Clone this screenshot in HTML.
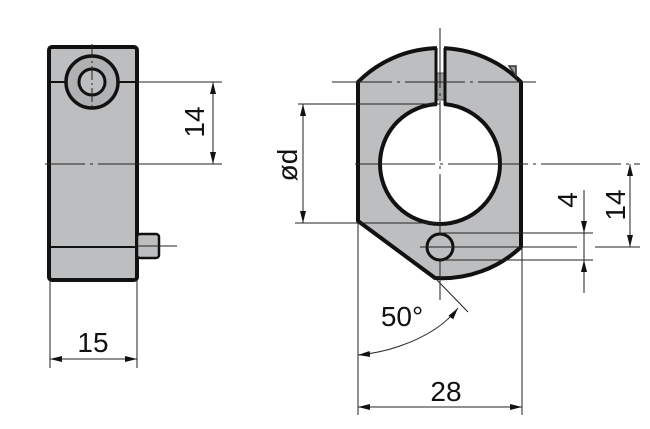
<!DOCTYPE html>
<html><head><style>body{margin:0;background:#fff}svg{display:block}</style></head><body>
<svg width="650" height="429" viewBox="0 0 650 429" xmlns="http://www.w3.org/2000/svg">
<defs>
<marker id="a" viewBox="0 0 12 6" refX="12" refY="3" markerWidth="12" markerHeight="6" markerUnits="userSpaceOnUse" orient="auto"><path d="M0,0 L12,3 L0,6 Z" fill="#111"/></marker>
</defs>
<g stroke="#222" stroke-width="1" fill="none">
<rect x="49" y="47" width="88" height="233" rx="3" fill="#bdbec0" stroke="#111" stroke-width="4"/>
<rect x="137" y="234" width="22" height="24" rx="3" fill="#bdbec0" stroke="#111" stroke-width="2.5"/>
<line x1="137" y1="246" x2="177" y2="246"/>
<line x1="49" y1="247" x2="137" y2="247" stroke="#111" stroke-width="2"/>
<line x1="49" y1="82" x2="137" y2="82" stroke="#111" stroke-width="2"/>
<circle cx="92" cy="82" r="26" fill="#b0b1b3" stroke="#111" stroke-width="3.5"/>
<circle cx="92" cy="82" r="13" fill="#bdbec0" stroke="#111" stroke-width="3"/>
<line x1="92" y1="44" x2="92" y2="110" stroke-dasharray="14 3 2 3"/>
<line x1="45" y1="164" x2="137" y2="164" stroke-dasharray="40 5 3 5"/>
<line x1="137" y1="82" x2="222" y2="82"/>
<line x1="137" y1="164" x2="222" y2="164"/>
<line x1="213" y1="122" x2="213" y2="82" marker-end="url(#a)"/>
<line x1="213" y1="122" x2="213" y2="164" marker-end="url(#a)"/>
<line x1="50" y1="280" x2="50" y2="368"/>
<line x1="137" y1="280" x2="137" y2="368"/>
<line x1="93" y1="359" x2="50" y2="359" marker-end="url(#a)"/>
<line x1="93" y1="359" x2="137" y2="359" marker-end="url(#a)"/>

<path d="M358,82 A115,115 0 0 1 521,82 L521,247 A115,115 0 0 1 435,278 L358,221 Z" fill="#bdbec0" stroke="#111" stroke-width="4" stroke-linejoin="round"/>
<path d="M509,66 L516,66 L516,76 Z" fill="#999" stroke="#333" stroke-width="1.5"/>
<circle cx="440" cy="164" r="60" fill="#fff" stroke="#111" stroke-width="4"/>
<rect x="437" y="38" width="7" height="70" fill="#fff" stroke="none"/>
<rect x="437" y="73" width="7" height="27" fill="#a0a1a3" stroke="#555" stroke-width="1"/>
<line x1="436" y1="48" x2="436" y2="105" stroke="#111" stroke-width="3"/>
<line x1="445" y1="48" x2="445" y2="105" stroke="#111" stroke-width="3"/>
<line x1="440" y1="28" x2="440" y2="300" stroke-dasharray="60 5 3 5"/>
<line x1="332" y1="82" x2="536" y2="82" stroke-dasharray="60 5 3 5"/>
<line x1="355" y1="164" x2="640" y2="164" stroke-dasharray="80 5 3 5"/>
<circle cx="440" cy="247" r="13" fill="#bdbec0" stroke="#111" stroke-width="3"/>
<line x1="298" y1="104" x2="440" y2="104"/>
<line x1="295" y1="223" x2="440" y2="223"/>
<line x1="303" y1="164" x2="303" y2="104" marker-end="url(#a)"/>
<line x1="303" y1="164" x2="303" y2="223" marker-end="url(#a)"/>
<line x1="440" y1="233" x2="593" y2="233"/>
<line x1="440" y1="260" x2="593" y2="260"/>
<line x1="420" y1="247" x2="577" y2="247"/>
<line x1="584" y1="190" x2="584" y2="233" marker-end="url(#a)"/>
<line x1="584" y1="293" x2="584" y2="260" marker-end="url(#a)"/>
<line x1="584" y1="233" x2="584" y2="260"/>
<line x1="595" y1="247" x2="640" y2="247"/>
<line x1="630" y1="205" x2="630" y2="164" marker-end="url(#a)"/>
<line x1="630" y1="205" x2="630" y2="247" marker-end="url(#a)"/>
<line x1="435" y1="278" x2="468" y2="312"/>
<path d="M400,346 Q440,332 458,308" marker-end="url(#a)"/>
<path d="M400,346 Q380,353 358,355" marker-end="url(#a)"/>
<line x1="358" y1="221" x2="358" y2="415"/>
<line x1="522" y1="247" x2="522" y2="415"/>
<line x1="440" y1="407" x2="358" y2="407" marker-end="url(#a)"/>
<line x1="440" y1="407" x2="522" y2="407" marker-end="url(#a)"/>
</g>
<g font-family="Liberation Sans, sans-serif" font-size="28" fill="#111" text-anchor="middle">
<text x="93" y="352">15</text>
<text x="446" y="401">28</text>
<text x="402" y="326">50°</text>
<text transform="translate(204,122) rotate(-90)">14</text>
<text transform="translate(297,165) rotate(-90)">ød</text>
<text transform="translate(577,200) rotate(-90)">4</text>
<text transform="translate(625,205) rotate(-90)">14</text>
</g>
</svg>
</body></html>
